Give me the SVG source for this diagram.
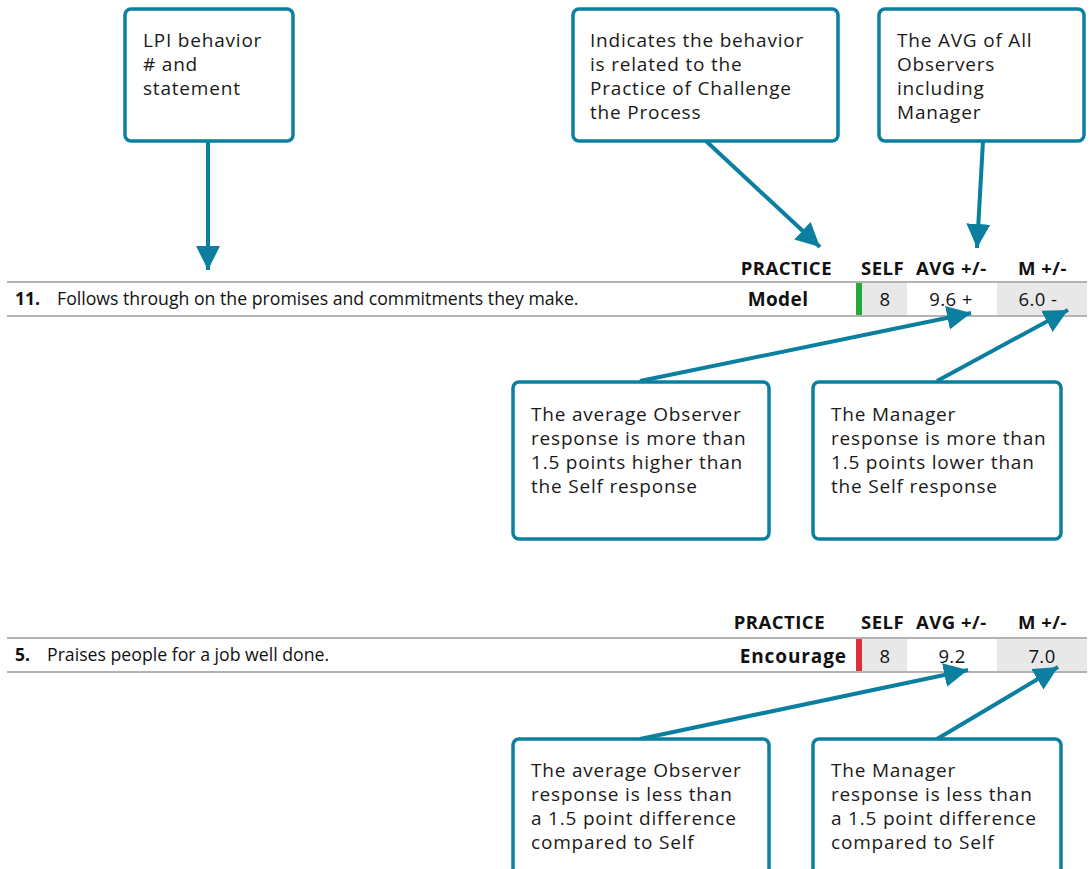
<svg xmlns="http://www.w3.org/2000/svg" width="1092" height="869" viewBox="0 0 1092 869">
<style>
.box{fill:#fff;stroke:#0b7fa0;stroke-width:3.5}
.t{font-family:"Open Sans","Noto Sans",sans-serif;font-size:19px;letter-spacing:0.8px;fill:#1a1a1a}
.h{font-family:"Open Sans","Noto Sans",sans-serif;font-size:18.5px;letter-spacing:0.5px;font-weight:bold;fill:#111}
.r{font-family:"Open Sans","Noto Sans",sans-serif;font-size:17.7px;fill:#111}
.rb{font-family:"Open Sans","Noto Sans",sans-serif;font-size:17.5px;font-weight:bold;fill:#111}
.c{font-family:"Open Sans","Noto Sans",sans-serif;font-size:18.5px;letter-spacing:0.4px;fill:#111;text-anchor:middle}
.pb{font-family:"Open Sans","Noto Sans",sans-serif;font-size:19px;letter-spacing:0.4px;font-weight:bold;fill:#111}
.rule{stroke:#b3b3b3;stroke-width:2}
.conn{stroke:#0b7fa0;stroke-width:4;fill:none}
</style>
<defs>
<marker id="ah" markerUnits="userSpaceOnUse" markerWidth="26" markerHeight="26" refX="24" refY="12" orient="auto">
<path d="M0,0 L24,12 L0,24 z" fill="#0b7fa0"/>
</marker>
</defs>
<rect width="1092" height="869" fill="#fff"/>

<g id="table1">
<rect x="862" y="283" width="45" height="33" fill="#e8e8e8"/>
<rect x="997" y="283" width="90" height="33" fill="#e8e8e8"/>
<rect x="856" y="283" width="6" height="33" fill="#22aa3a"/>
<line class="rule" x1="7" y1="282" x2="1087" y2="282"/>
<line class="rule" x1="7" y1="316" x2="1087" y2="316"/>
<text class="h" x="832" y="275" text-anchor="end">PRACTICE</text>
<text class="h" x="861" y="275">SELF</text>
<text class="h" x="916" y="275">AVG +/-</text>
<text class="h" x="1018" y="275">M +/-</text>
<text class="rb" x="15" y="305">11.</text>
<text class="r" x="57" y="305">Follows through on the promises and commitments they make.</text>
<text class="pb" x="778" y="306" text-anchor="middle">Model</text>
<text class="c" x="885" y="306">8</text>
<text class="c" x="951" y="306">9.6 +</text>
<text class="c" x="1038" y="306">6.0 -</text>
</g>

<g id="table2">
<rect x="862" y="639" width="45" height="33" fill="#e8e8e8"/>
<rect x="997" y="639" width="90" height="33" fill="#e8e8e8"/>
<rect x="856" y="639" width="6" height="33" fill="#d9323a"/>
<line class="rule" x1="7" y1="638" x2="1087" y2="638"/>
<line class="rule" x1="7" y1="672" x2="1087" y2="672"/>
<text class="h" x="825" y="629" text-anchor="end">PRACTICE</text>
<text class="h" x="861" y="629">SELF</text>
<text class="h" x="916" y="629">AVG +/-</text>
<text class="h" x="1018" y="629">M +/-</text>
<text class="rb" x="15" y="661">5.</text>
<text class="r" x="47" y="661">Praises people for a job well done.</text>
<text class="pb" x="847" y="663" text-anchor="end" style="letter-spacing:0.9px">Encourage</text>
<text class="c" x="885" y="663">8</text>
<text class="c" x="952" y="663">9.2</text>
<text class="c" x="1042" y="663">7.0</text>
</g>

<g id="connectors">
<line class="conn" x1="208" y1="141" x2="208" y2="270" marker-end="url(#ah)"/>
<line class="conn" x1="706" y1="141" x2="820" y2="247" marker-end="url(#ah)"/>
<line class="conn" x1="983" y1="141" x2="977" y2="248" marker-end="url(#ah)"/>
<line class="conn" x1="640" y1="381" x2="971" y2="313" marker-end="url(#ah)"/>
<line class="conn" x1="937" y1="381" x2="1068" y2="310" marker-end="url(#ah)"/>
<line class="conn" x1="640" y1="739" x2="968" y2="670" marker-end="url(#ah)"/>
<line class="conn" x1="937" y1="739" x2="1058" y2="667" marker-end="url(#ah)"/>
</g>

<g id="note-lpi">
<rect class="box" x="125" y="9" width="168" height="132" rx="6"/>
<text class="t" x="143" y="47">LPI behavior</text>
<text class="t" x="143" y="71"># and</text>
<text class="t" x="143" y="95">statement</text>
</g>
<g id="note-practice">
<rect class="box" x="573" y="9" width="265" height="132" rx="6"/>
<text class="t" x="590" y="47">Indicates the behavior</text>
<text class="t" x="590" y="71">is related to the</text>
<text class="t" x="590" y="95">Practice of Challenge</text>
<text class="t" x="590" y="119">the Process</text>
</g>
<g id="note-avg">
<rect class="box" x="879" y="9" width="205" height="132" rx="6"/>
<text class="t" x="897" y="47">The AVG of All</text>
<text class="t" x="897" y="71">Observers</text>
<text class="t" x="897" y="95">including</text>
<text class="t" x="897" y="119">Manager</text>
</g>
<g id="note-obs-higher">
<rect class="box" x="513" y="382" width="256" height="157" rx="6"/>
<text class="t" x="531" y="421">The average Observer</text>
<text class="t" x="531" y="445">response is more than</text>
<text class="t" x="531" y="469">1.5 points higher than</text>
<text class="t" x="531" y="493">the Self response</text>
</g>
<g id="note-mgr-lower">
<rect class="box" x="813" y="382" width="248" height="157" rx="6"/>
<text class="t" x="831" y="421">The Manager</text>
<text class="t" x="831" y="445">response is more than</text>
<text class="t" x="831" y="469">1.5 points lower than</text>
<text class="t" x="831" y="493">the Self response</text>
</g>
<g id="note-obs-less">
<rect class="box" x="513" y="739" width="256" height="150" rx="6"/>
<text class="t" x="531" y="777">The average Observer</text>
<text class="t" x="531" y="801">response is less than</text>
<text class="t" x="531" y="825">a 1.5 point difference</text>
<text class="t" x="531" y="849">compared to Self</text>
</g>
<g id="note-mgr-less">
<rect class="box" x="813" y="739" width="248" height="150" rx="6"/>
<text class="t" x="831" y="777">The Manager</text>
<text class="t" x="831" y="801">response is less than</text>
<text class="t" x="831" y="825">a 1.5 point difference</text>
<text class="t" x="831" y="849">compared to Self</text>
</g>
</svg>
